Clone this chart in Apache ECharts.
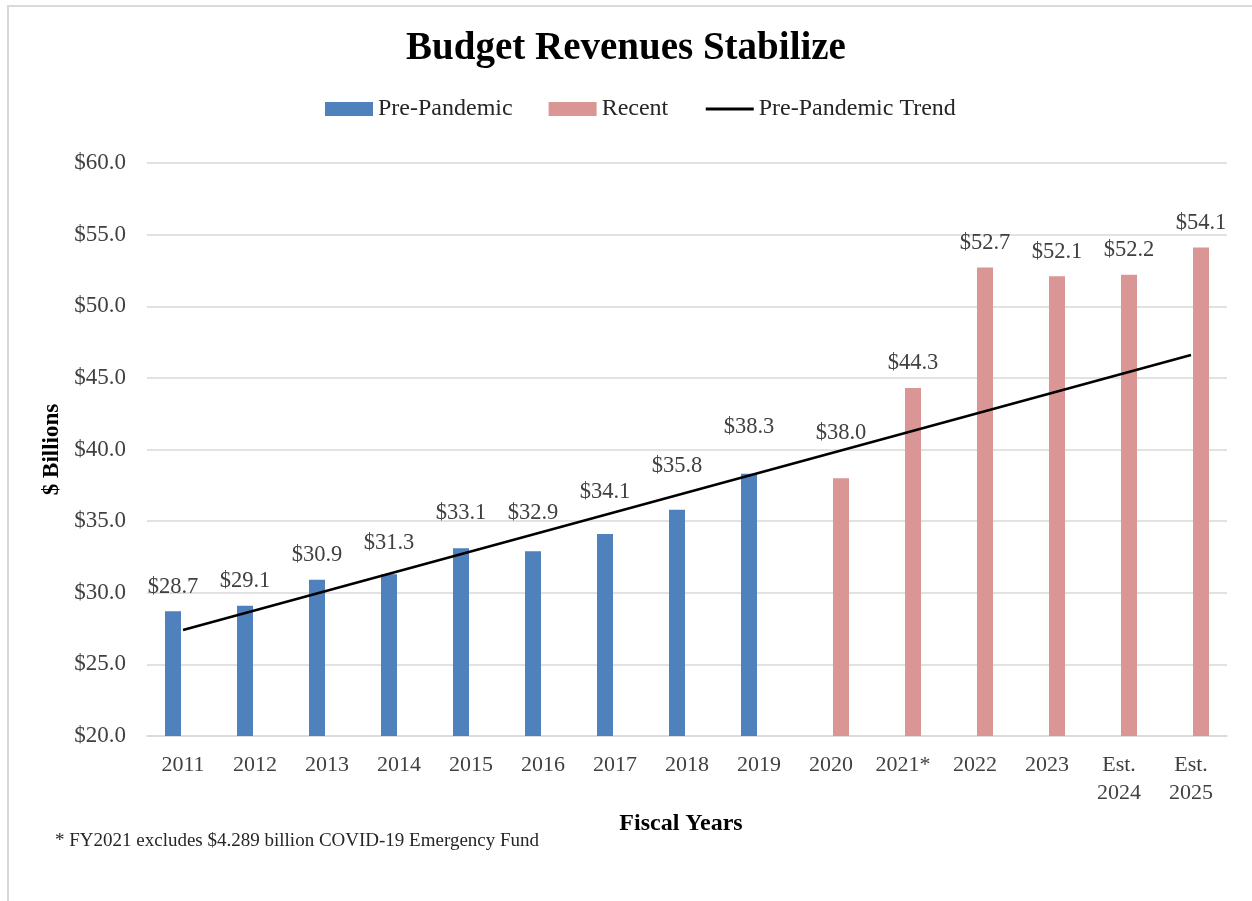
<!DOCTYPE html>
<html>
<head>
<meta charset="utf-8">
<title>Budget Revenues Stabilize</title>
<script src="https://cdn.jsdelivr.net/npm/echarts@6/dist/echarts.min.js"></script>
<style>
  html, body { margin: 0; padding: 0; background: #ffffff; }
  #chart { width: 1252px; height: 901px; }
</style>
</head>
<body>
<div id="chart"></div>
<script>
// Fiscal years shown on the category axis
const categories = ['2011', '2012', '2013', '2014', '2015', '2016', '2017', '2018', '2019',
  '2020', '2021*', '2022', '2023', 'Est.\n2024', 'Est.\n2025'];

// Revenues, $ billions
const preYears = ['2011', '2012', '2013', '2014', '2015', '2016', '2017', '2018', '2019'];
const preValues = [28.7, 29.1, 30.9, 31.3, 33.1, 32.9, 34.1, 35.8, 38.3];
const recentYears = ['2020', '2021*', '2022', '2023', 'Est.\n2024', 'Est.\n2025'];
const recentValues = [38.0, 44.3, 52.7, 52.1, 52.2, 54.1];

// Pre-pandemic trend line, drawn from its first to its last fiscal year
const trendEnds = [27.4, 46.6];

const yTicks = { min: 20, max: 60, step: 5 };

// Extra upward lift (px) for value labels that would otherwise sit on the trend line
const labelLift = { '2014': 7, '2015': 11, '2016': 14, '2017': 17, '2018': 19, '2019': 22, '2020': 21 };

const SERIF = '"Liberation Serif", "Times New Roman", serif';
const money = v => '$' + Number(v).toFixed(1);

function toSeries(years, values) {
  return categories.map(c => {
    const i = years.indexOf(c);
    if (i < 0) return null;
    const lift = labelLift[c] || 0;
    return { value: values[i], label: { offset: [0, -lift] } };
  });
}

const trendData = categories.map((c, i) =>
  i === 0 ? trendEnds[0] : (i === categories.length - 1 ? trendEnds[1] : null));

const barLabel = {
  show: true,
  position: 'top',
  distance: 13,
  color: '#404040',
  fontFamily: SERIF,
  fontSize: 22.5,
  formatter: p => money(p.value)
};

const chart = echarts.init(document.getElementById('chart'), null, { renderer: 'canvas' });

chart.setOption({
  backgroundColor: '#ffffff',
  animation: false,
  title: {
    text: 'Budget Revenues Stabilize',
    left: 'center',
    top: 24,
    textStyle: { fontFamily: SERIF, fontWeight: 'bold', fontSize: 39, color: '#000000' }
  },
  legend: {
    top: 92,
    left: 320,
    itemWidth: 48,
    itemHeight: 14,
    itemGap: 36,
    textStyle: { fontFamily: SERIF, fontSize: 24, color: '#262626' },
    data: [
      { name: 'Pre-Pandemic', icon: 'rect' },
      { name: 'Recent', icon: 'rect' },
      { name: 'Pre-Pandemic Trend', itemStyle: { opacity: 0 }, lineStyle: { color: '#000000', width: 3 } }
    ]
  },
  grid: { left: 147, right: 25, top: 163, bottom: 165, containLabel: false },
  xAxis: {
    type: 'category',
    data: categories,
    name: 'Fiscal Years',
    nameLocation: 'middle',
    nameGap: 64,
    nameTextStyle: { fontFamily: SERIF, fontWeight: 'bold', fontSize: 24, color: '#000000', padding: [0, 12, 0, 0] },
    axisLine: { lineStyle: { color: '#d9d9d9', width: 1.5 } },
    axisTick: { show: false },
    axisLabel: {
      fontFamily: SERIF, fontSize: 22, color: '#404040', margin: 15, lineHeight: 28, interval: 0
    }
  },
  yAxis: {
    type: 'value',
    min: yTicks.min,
    max: yTicks.max,
    interval: yTicks.step,
    name: '$ Billions',
    nameLocation: 'middle',
    nameRotate: 90,
    nameGap: 78,
    nameTextStyle: { fontFamily: SERIF, fontWeight: 'bold', fontSize: 23, color: '#000000' },
    axisLine: { show: false },
    axisTick: { show: false },
    splitLine: { lineStyle: { color: '#d9d9d9', width: 1.5 } },
    axisLabel: {
      fontFamily: SERIF, fontSize: 23, color: '#404040', margin: 21,
      formatter: v => money(v)
    }
  },
  series: [
    {
      name: 'Pre-Pandemic',
      type: 'bar',
      data: toSeries(preYears, preValues),
      barWidth: 16,
      barGap: '25%',
      itemStyle: { color: '#4f81bd' },
      label: barLabel
    },
    {
      name: 'Recent',
      type: 'bar',
      data: toSeries(recentYears, recentValues),
      barWidth: 16,
      barGap: '25%',
      itemStyle: { color: '#da9694' },
      label: barLabel
    },
    {
      name: 'Pre-Pandemic Trend',
      type: 'line',
      data: trendData,
      connectNulls: true,
      symbol: 'none',
      z: 5,
      lineStyle: { color: '#000000', width: 2.5 },
      itemStyle: { color: '#000000' }
    }
  ],
  graphic: [
    // outer frame edges
    { type: 'line', shape: { x1: 7, y1: 6, x2: 1252, y2: 6 }, style: { stroke: '#d9d9d9', lineWidth: 2 } },
    { type: 'line', shape: { x1: 8, y1: 5, x2: 8, y2: 901 }, style: { stroke: '#d9d9d9', lineWidth: 2 } },
    {
      type: 'text',
      left: 55,
      top: 832,
      style: {
        text: '* FY2021 excludes $4.289 billion COVID-19 Emergency Fund',
        fontFamily: SERIF, fontSize: 19, fill: '#262626'
      }
    }
  ]
});
</script>
</body>
</html>
